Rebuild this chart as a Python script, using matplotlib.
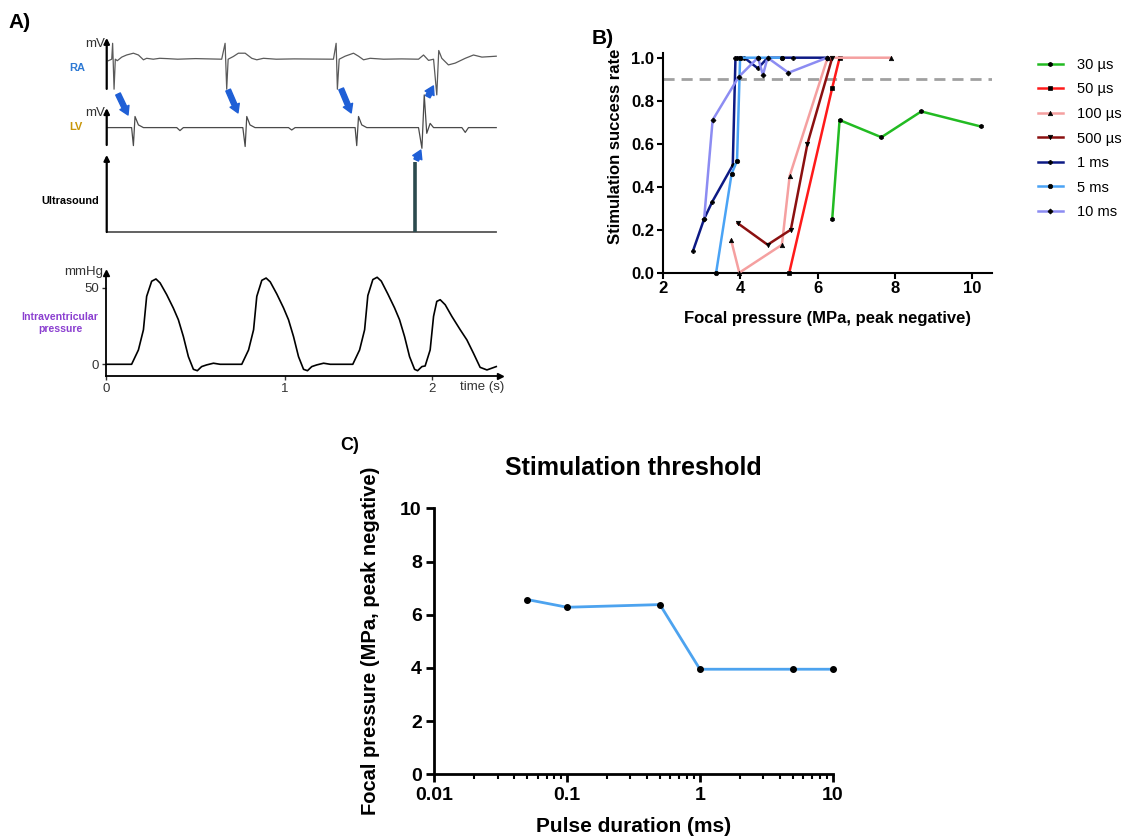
import numpy as np
import matplotlib.pyplot as plt

plt.rcParams['font.family'] = ['Liberation Sans', 'DejaVu Sans']

W, H = 1135, 839

# ---------------- panel A: schematic traces (time in s) ----------------
ra_t = [0.013, 0.032, 0.037, 0.045, 0.052, 0.063, 0.088, 0.115, 0.153, 0.181, 0.209, 0.227, 0.264,
        0.30, 0.339, 0.40, 0.50, 0.646, 0.665, 0.674, 0.682, 0.711, 0.739, 0.777, 0.814, 0.842,
        0.879, 0.95, 1.05, 1.270, 1.285, 1.292, 1.302, 1.335, 1.382, 1.410, 1.438, 1.475, 1.55,
        1.65, 1.745, 1.773, 1.801, 1.829, 1.847, 1.858, 1.875, 1.912, 1.950, 2.006, 2.052, 2.099,
        2.179]
ra_mv = [-0.05, 0.0, 0.53, -1.0, 0.0, -0.05, 0.07, 0.14, 0.20, 0.14, -0.02, 0.03, 0.0,
         0.03, 0.02, 0.0, 0.02, 0.0, 0.53, -1.0, 0.0, 0.09, 0.2, 0.2, 0.03, -0.02,
         0.03, 0.0, 0.01, 0.0, 0.53, -1.0, 0.0, 0.1, 0.2, 0.1, -0.02, 0.03, 0.0,
         0.01, 0.0, 0.14, -0.04, 0.0, -1.19, 0.29, 0.03, -0.19, -0.13, 0.03, 0.14, 0.07,
         0.1]

lv_t = [0.007, 0.143, 0.153, 0.162, 0.181, 0.209, 0.395, 0.413, 0.432, 0.764, 0.777, 0.786,
        0.804, 0.832, 1.019, 1.037, 1.056, 1.391, 1.400, 1.410, 1.428, 1.456, 1.745, 1.764,
        1.777, 1.791, 1.810, 1.829, 1.987, 2.006, 2.024, 2.179]
lv_mv = [0.0, 0.0, -0.6, 0.37, 0.09, 0.0, 0.0, -0.1, 0.0, 0.0, -0.63, 0.37,
         0.09, 0.0, 0.0, -0.08, 0.0, 0.0, -0.6, 0.37, 0.09, 0.0, 0.0, -0.69,
         1.09, -0.19, 0.14, 0.0, 0.0, -0.16, 0.0, 0.0]

us_t = [0.0, 2.179]
us_v = [0.0, 0.0]
us_pulse_t = [1.726]
us_pulse_h = [2.33]

p_t = [0.004, 0.143, 0.181, 0.209, 0.227, 0.255, 0.279, 0.302, 0.339, 0.376, 0.404, 0.432, 0.460,
       0.488, 0.510, 0.534, 0.562, 0.600, 0.637,
       0.758, 0.796, 0.824, 0.842, 0.870, 0.894, 0.917, 0.954, 0.991, 1.019, 1.047, 1.075, 1.103,
       1.125, 1.149, 1.177, 1.215, 1.252,
       1.378, 1.416, 1.444, 1.462, 1.490, 1.514, 1.537, 1.574, 1.611, 1.639, 1.667, 1.695, 1.723,
       1.740, 1.764, 1.782,
       1.810, 1.829, 1.847, 1.866, 1.894, 1.931, 1.978, 2.015, 2.052, 2.089, 2.127, 2.179]
p_mmhg = [0, 0, 9.4, 22.6, 44.5, 54.4, 55.9, 53.3, 45.6, 36.8, 29.2, 18.2, 5.0,
          -3.3, -4.2, -1.5, -0.4, 0.7, 0,
          0, 9.4, 22.6, 44.5, 55.0, 56.5, 54.0, 46.0, 37.0, 29.2, 18.2, 5.0, -3.3,
          -4.2, -1.5, -0.4, 0.7, 0,
          0, 9.4, 22.6, 45.0, 55.5, 57.0, 54.5, 46.0, 37.0, 29.2, 18.2, 5.0, -3.3,
          -4.2, -1.5, -1.1,
          9.4, 31.4, 41.2, 42.3, 39.0, 31.4, 22.6, 16.0, 7.2, -2.0, -3.7, -1.5]

time_ticks = [0, 1, 1.82]
time_labels = ['0', '1', '2']

# blue arrows: (t0, y0) -> (t1, y1) in stacked-trace units
arrows = [((0.067, 4.60), (0.123, 3.90)),
          ((0.682, 4.73), (0.737, 3.97)),
          ((1.313, 4.77), (1.369, 3.97)),
          ((1.732, 2.40), (1.758, 2.73)),
          ((1.797, 4.51), (1.828, 4.87))]
RA_OFF, LV_OFF = 5.76, 3.48

# ---------------- panel B: success rate vs focal pressure ----------------
labels_b = ['30 µs', '50 µs', '100 µs', '500 µs', '1 ms', '5 ms', '10 ms']
x_30us = [6.38, 6.57, 7.65, 8.68, 10.22]
y_30us = [0.25, 0.71, 0.63, 0.75, 0.68]
x_50us = [5.27, 6.38, 6.57]
y_50us = [0.0, 0.86, 1.0]
x_100us = [3.77, 3.98, 5.08, 5.28, 6.26, 7.89]
y_100us = [0.15, 0.0, 0.13, 0.45, 1.0, 1.0]
x_500us = [3.94, 4.71, 5.31, 5.74, 6.38]
y_500us = [0.23, 0.13, 0.20, 0.60, 1.0]
x_1ms = [2.78, 3.07, 3.28, 3.81, 3.88, 3.93, 4.02, 4.11, 4.46, 4.71, 5.08, 5.37, 6.25]
y_1ms = [0.10, 0.25, 0.33, 0.50, 1.0, 1.0, 1.0, 1.0, 0.95, 1.0, 1.0, 1.0, 1.0]
x_5ms = [3.38, 3.78, 3.92, 4.00, 4.46, 5.08]
y_5ms = [0.0, 0.46, 0.52, 1.0, 1.0, 1.0]
x_10ms = [3.07, 3.29, 3.96, 4.46, 4.59, 4.71, 5.25, 6.25]
y_10ms = [0.25, 0.71, 0.91, 1.0, 0.92, 1.0, 0.93, 1.0]
threshold_rate = 0.9

# ---------------- panel C: stimulation threshold ----------------
pulse_ms = [0.05, 0.1, 0.5, 1, 5, 10]
thresh_mpa = [6.57, 6.28, 6.38, 3.95, 3.95, 3.95]


def px(x, y):
    return x / W, 1 - y / H


fig = plt.figure(figsize=(W / 100, H / 100), dpi=100)

# ---- A: electrograms + ultrasound ----
axA = fig.add_axes([106 / W, 1 - 235 / H, 394 / W, 201 / H])
axA.set_xlim(0, 2.2)
axA.set_ylim(-0.1, 6.6)
axA.axis('off')
axA.plot(ra_t, np.array(ra_mv) + RA_OFF, color='#5a5a5a', lw=0.9)
axA.plot(lv_t, np.array(lv_mv) + LV_OFF, color='#4a4a4a', lw=0.9)
axA.plot(us_t, us_v, color='#555555', lw=1.3)
axA.vlines(us_pulse_t, 0, us_pulse_h, color='#2b4a4e', lw=2.6)
for y0, y1 in [(4.77, 6.47), (2.9, 4.13), (0.0, 2.57)]:
    axA.annotate('', xy=(0.004, y1), xytext=(0.004, y0),
                 arrowprops=dict(arrowstyle='-|>', color='k', lw=1.6, mutation_scale=8,
                                 shrinkA=0, shrinkB=0))
for (t0, y0), (t1, y1) in arrows:
    axA.annotate('', xy=(t1, y1), xytext=(t0, y0),
                 arrowprops=dict(arrowstyle='simple,head_length=0.5,head_width=0.6,tail_width=0.3',
                                 color='#1f5fd6', mutation_scale=12, shrinkA=0, shrinkB=0))

fig.text(*px(20, 22), 'A)', fontsize=15, fontweight='bold', ha='center', va='center')
fig.text(*px(95, 44), 'mV', fontsize=9.5, ha='center', va='center', color='#333333')
fig.text(*px(95, 113), 'mV', fontsize=9.5, ha='center', va='center', color='#333333')
fig.text(*px(77, 68), 'RA', fontsize=8, fontweight='bold', color='#2f7ad4', ha='center', va='center')
fig.text(*px(76, 127), 'LV', fontsize=8, fontweight='bold', color='#c8960a', ha='center', va='center')
fig.text(*px(70, 201), 'Ultrasound', fontsize=7.8, fontweight='bold', ha='center', va='center')

# ---- A: intraventricular pressure ----
axP = fig.add_axes([106 / W, 1 - 376.5 / H, 394 / W, 103.8 / H])
axP.plot(p_t, p_mmhg, color='k', lw=1.2)
axP.set_xlim(0, 2.2)
axP.set_ylim(-8, 60)
axP.spines[['top', 'right']].set_visible(False)
axP.spines[['left', 'bottom']].set_linewidth(1.3)
axP.set_yticks([0, 50])
axP.set_xticks(time_ticks, time_labels)
axP.tick_params(length=3, width=1, labelsize=9.5, pad=2, colors='#333333')
axP.plot(1, 0, '>k', ms=5, transform=axP.transAxes, clip_on=False)
axP.plot(0, 1, '^k', ms=5, transform=axP.transAxes, clip_on=False)
fig.text(*px(84, 272), 'mmHg', fontsize=9.5, ha='center', va='center', color='#333333')
fig.text(*px(482, 387), 'time (s)', fontsize=9.5, ha='center', va='center', color='#333333')
fig.text(*px(60, 323), 'Intraventricular\npressure', fontsize=7.6, fontweight='bold',
         color='#8b3fd0', ha='center', va='center', linespacing=1.3)

# ---- B ----
axB = fig.add_axes([662.7 / W, 1 - 272.7 / H, 329 / W, 219.3 / H])
axB.axhline(threshold_rate, color='#a0a0a0', lw=2, ls=(0, (4, 2.5)), zorder=1)
series = [(x_30us, y_30us, '#22bb22', 'h', 3.2),
          (x_50us, y_50us, '#ff1a1a', 's', 3.5),
          (x_100us, y_100us, '#f5a0a0', '^', 3.2),
          (x_500us, y_500us, '#8b1010', 'v', 3.2),
          (x_1ms, y_1ms, '#0d1a85', 'P', 3),
          (x_5ms, y_5ms, '#4aa3f5', 'o', 3.2),
          (x_10ms, y_10ms, '#8c8cf2', 'D', 2.6)]
for (xs, ys, c, m, ms), lab in zip(series, labels_b):
    axB.plot(xs, ys, color=c, lw=1.8, marker=m, ms=ms, mfc='k', mec='k', mew=0.5,
             label=lab, clip_on=False, zorder=3)
axB.set_xlim(2, 10.5)
axB.set_ylim(0, 1.02)
axB.set_xticks([2, 4, 6, 8, 10])
axB.set_yticks([0, 0.2, 0.4, 0.6, 0.8, 1.0], ['0.0', '0.2', '0.4', '0.6', '0.8', '1.0'])
axB.spines[['top', 'right']].set_visible(False)
axB.spines[['left', 'bottom']].set_linewidth(1.5)
axB.tick_params(direction='out', length=4, width=1.5, labelsize=12, pad=2)
for t in axB.get_xticklabels() + axB.get_yticklabels():
    t.set_fontweight('bold')
axB.set_xlabel('Focal pressure (MPa, peak negative)', fontsize=12, fontweight='bold')
axB.set_ylabel('Stimulation success rate', fontsize=12, fontweight='bold')
axB.xaxis.set_label_coords(0.5, (272.7 - 318) / 219.3)
axB.xaxis.label.set_va('center')
axB.yaxis.set_label_coords((615 - 662.7) / 329, (272.7 - 146) / 219.3)
axB.yaxis.label.set_va('center')
fig.text(*px(603, 38), 'B)', fontsize=15, fontweight='bold', ha='center', va='center')
axB.legend(loc='upper left', bbox_to_anchor=px(1038, 58), bbox_transform=fig.transFigure,
           frameon=False, fontsize=10.5, handlelength=1.7, handletextpad=1.0,
           labelspacing=0.72, borderpad=0, borderaxespad=0)

# ---- C ----
axC = fig.add_axes([434.3 / W, 1 - 774.3 / H, 398.4 / W, 266 / H])
axC.plot(pulse_ms, thresh_mpa, color='#4da3ef', lw=2, marker='o', ms=4, mfc='k', mec='k',
         clip_on=False)
axC.set_xscale('log')
axC.set_xlim(0.01, 10)
axC.set_ylim(0, 10)
axC.set_xticks([0.01, 0.1, 1, 10], ['0.01', '0.1', '1', '10'])
axC.set_yticks([0, 2, 4, 6, 8, 10])
axC.spines[['top', 'right']].set_visible(False)
axC.spines[['left', 'bottom']].set_linewidth(2)
axC.tick_params(which='major', direction='out', length=6, width=2, labelsize=14, pad=3)
axC.tick_params(which='minor', direction='out', length=3.5, width=1.5)
for t in axC.get_xticklabels() + axC.get_yticklabels():
    t.set_fontweight('bold')
axC.set_xlabel('Pulse duration (ms)', fontsize=15, fontweight='bold')
axC.set_ylabel('Focal pressure (MPa, peak negative)', fontsize=14.5, fontweight='bold')
axC.xaxis.set_label_coords(0.5, (774.3 - 826) / 266)
axC.xaxis.label.set_va('center')
axC.yaxis.set_label_coords((371 - 434.3) / 398.4, (774.3 - 640.5) / 266)
axC.yaxis.label.set_va('center')
fig.text(*px(633, 468), 'Stimulation threshold', fontsize=18, fontweight='bold',
         ha='center', va='center')
fig.text(*px(350, 446), 'C)', fontsize=13, fontweight='bold', ha='center', va='center')

fig.savefig('out.png', dpi=100)
